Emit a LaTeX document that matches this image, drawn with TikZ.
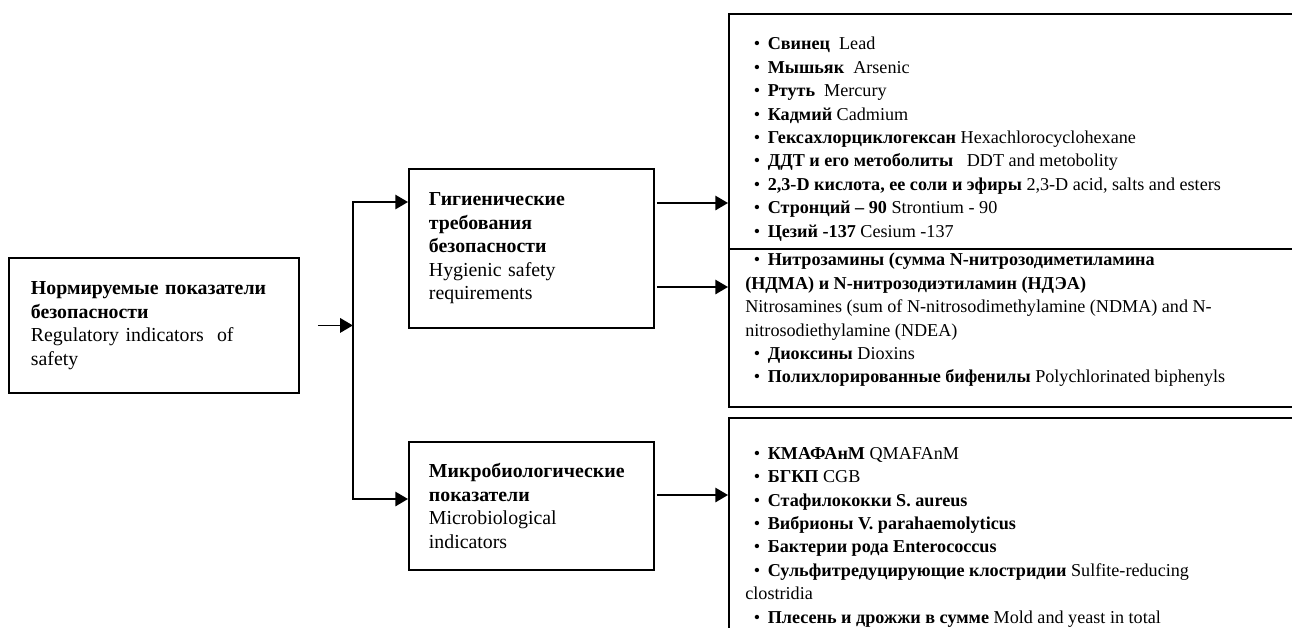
\documentclass[tikz,border=0pt]{standalone}
\usepackage{fontspec}
\setmainfont{Liberation Serif}
\usetikzlibrary{arrows.meta, positioning}
\def\pxu{0.59pt}
\newcommand{\itm}{\hspace*{5pt}\textbullet\hspace{4.5pt}}
\tikzset{
  block/.style={draw, line width=1.1pt, align=left, anchor=north west, inner xsep=0pt,
    font=\fontsize{11.7}{13.9}\selectfont},
  listbox/.style={draw, line width=1.1pt, anchor=north west, inner sep=0pt},
  listtext/.style={align=left, anchor=north west, inner sep=0pt,
    font=\fontsize{10.7}{13.8}\selectfont},
  arr/.style={line width=1.1pt, -{Triangle[length=7.5pt,width=8.5pt]}}
}

\begin{document}
\begin{tikzpicture}[x=0.59pt, y=-0.59pt]
  \useasboundingbox (0,0) rectangle (1292,627);
  \clip (0,0) rectangle (1292,627);

  \node[block, text width=246*\pxu, minimum width=290*\pxu, minimum height=135*\pxu] (norm) at (8,257)
    {\textbf{Нормируемые показатели}\\ \textbf{безопасности}\\ Regulatory indicators\ \ of\\ safety};
  \node[block, text width=205*\pxu, minimum width=245*\pxu, minimum height=159*\pxu] (hyg) at (408,168)
    {\textbf{Гигиенические}\\ \textbf{требования}\\ \textbf{безопасности}\\ Hygienic safety\\ requirements};
  \node[block, text width=205*\pxu, minimum width=245*\pxu, minimum height=128*\pxu] (micro) at (408,441)
    {\textbf{Микробиологические}\\ \textbf{показатели}\\ Microbiological\\ indicators};

  \node[listbox, minimum width=600*\pxu, minimum height=235*\pxu] (heavy) at (728,13) {};
  \node[listbox, minimum width=600*\pxu, minimum height=158*\pxu] (organic) at (728,248) {};
  \node[listbox, minimum width=600*\pxu, minimum height=240*\pxu] (microbes) at (728,417) {};

  \node[listtext] (heavytext) at ([xshift=17*\pxu,yshift=-24*\pxu]heavy.north west)
    {\itm\textbf{Свинец}\ \ Lead\\
     \itm\textbf{Мышьяк}\ \ Arsenic\\
     \itm\textbf{Ртуть}\ \ Mercury\\
     \itm\textbf{Кадмий} Cadmium\\
     \itm\textbf{Гексахлорциклогексан} Hexachlorocyclohexane\\
     \itm\textbf{ДДТ и его метоболиты}\ \ \ DDT and metobolity\\
     \itm\textbf{2,3-D кислота, ее соли и эфиры} 2,3-D acid, salts and esters\\
     \itm\textbf{Стронций -- 90} Strontium - 90\\
     \itm\textbf{Цезий -137} Cesium -137};
  \node[listtext] (organictext) at ([xshift=17*\pxu,yshift=-5*\pxu]organic.north west)
    {\itm\textbf{Нитрозамины (сумма N-нитрозодиметиламина}\\
     \textbf{(НДМА) и N-нитрозодиэтиламин (НДЭА)}\\
     Nitrosamines (sum of N-nitrosodimethylamine (NDMA) and N-\\
     nitrosodiethylamine (NDEA)\\
     \itm\textbf{Диоксины} Dioxins\\
     \itm\textbf{Полихлорированные бифенилы} Polychlorinated biphenyls};
  \node[listtext] (microbestext) at ([xshift=17*\pxu,yshift=-30*\pxu]microbes.north west)
    {\itm\textbf{КМАФАнМ} QMAFAnM\\
     \itm\textbf{БГКП} CGB\\
     \itm\textbf{Стафилококки S. aureus}\\
     \itm\textbf{Вибрионы V. parahaemolyticus}\\
     \itm\textbf{Бактерии рода Enterococcus}\\
     \itm\textbf{Сульфитредуцирующие клостридии} Sulfite-reducing\\
     clostridia\\
     \itm\textbf{Плесень и дрожжи в сумме} Mold and yeast in total};

  \coordinate (fork) at ([xshift=53*\pxu]norm.east);
  \coordinate (hygout1) at ([xshift=2*\pxu,yshift=-35*\pxu]hyg.north east);
  \coordinate (hygout2) at ([xshift=2*\pxu,yshift=-119*\pxu]hyg.north east);
  \coordinate (microout) at ([xshift=2*\pxu,yshift=-54*\pxu]micro.north east);

  \draw[arr] ([xshift=18*\pxu]norm.east) -- (fork);
  \draw[arr] (fork) |- ([yshift=-34*\pxu]hyg.north west);
  \draw[arr] (fork) |- ([yshift=-58*\pxu]micro.north west);
  \draw[arr] (hygout1) -- (hygout1 -| heavy.west);
  \draw[arr] (hygout2) -- (hygout2 -| organic.west);
  \draw[arr] (microout) -- (microout -| microbes.west);
\end{tikzpicture}
\end{document}
